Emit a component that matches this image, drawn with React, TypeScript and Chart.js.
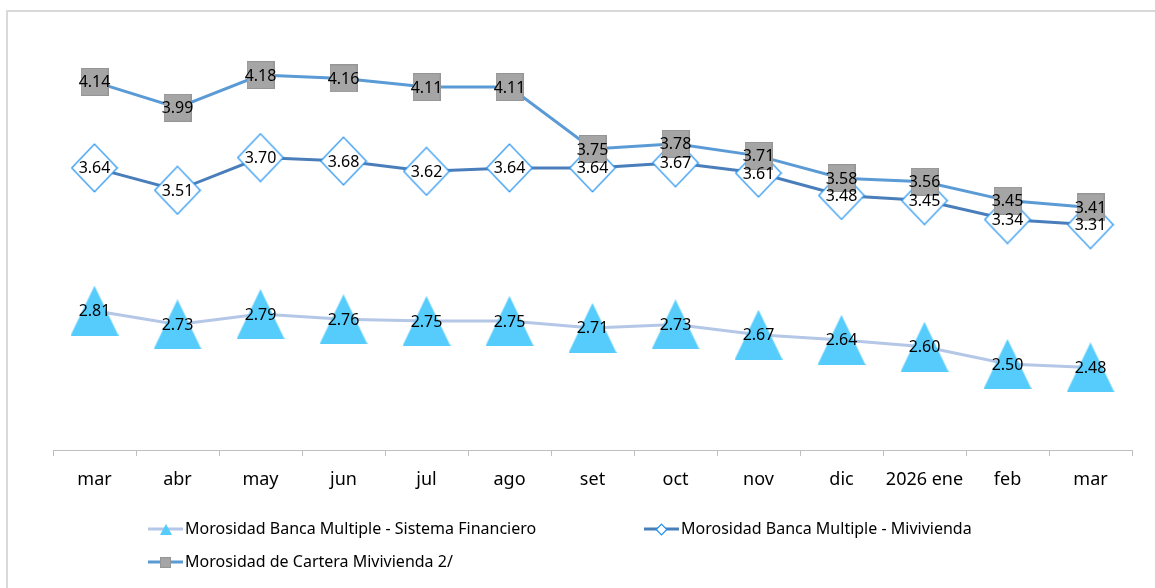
import React, { useEffect, useRef } from "react";
import { Chart, registerables } from "chart.js";

Chart.register(...registerables);

const categories = ["mar", "abr", "may", "jun", "jul", "ago", "set", "oct", "nov", "dic", "2026 ene", "feb", "mar"];
const sistemaFinanciero = [2.81, 2.73, 2.79, 2.76, 2.75, 2.75, 2.71, 2.73, 2.67, 2.64, 2.6, 2.5, 2.48];
const bancaMivivienda = [3.64, 3.51, 3.7, 3.68, 3.62, 3.64, 3.64, 3.67, 3.61, 3.48, 3.45, 3.34, 3.31];
const carteraMivivienda = [4.14, 3.99, 4.18, 4.16, 4.11, 4.11, 3.75, 3.78, 3.71, 3.58, 3.56, 3.45, 3.41];
const seriesNames = [
  "Morosidad Banca Multiple - Sistema Financiero",
  "Morosidad Banca Multiple - Mivivienda",
  "Morosidad de Cartera Mivivienda 2/",
];

const FONT = "'Noto Sans', 'Open Sans', sans-serif";

function makeCanvas(w: number, h: number, draw: (ctx: CanvasRenderingContext2D) => void) {
  const c = document.createElement("canvas");
  c.width = w;
  c.height = h;
  const ctx = c.getContext("2d")!;
  draw(ctx);
  return c;
}

function triangleImg(w: number, h: number) {
  return makeCanvas(w, h, (ctx) => {
    ctx.fillStyle = "#55CCFC";
    ctx.beginPath();
    ctx.moveTo(w / 2, 0);
    ctx.lineTo(w, h);
    ctx.lineTo(0, h);
    ctx.closePath();
    ctx.fill();
  });
}

function diamondImg(w: number, h: number, lw: number) {
  return makeCanvas(w, h, (ctx) => {
    ctx.fillStyle = "#FFFFFF";
    ctx.strokeStyle = "#1E90F0";
    ctx.lineWidth = lw;
    ctx.beginPath();
    ctx.moveTo(w / 2, lw);
    ctx.lineTo(w - lw, h / 2);
    ctx.lineTo(w / 2, h - lw);
    ctx.lineTo(lw, h / 2);
    ctx.closePath();
    ctx.fill();
    ctx.stroke();
  });
}

function squareImg(s: number) {
  return makeCanvas(s, s, (ctx) => {
    ctx.fillStyle = "#A5A5A5";
    ctx.fillRect(0, 0, s, s);
    ctx.strokeStyle = "#959595";
    ctx.lineWidth = 1;
    ctx.strokeRect(0.5, 0.5, s - 1, s - 1);
  });
}

export default function App() {
  const ref = useRef<HTMLCanvasElement | null>(null);

  useEffect(() => {
    if (!ref.current) return;
    const tri = triangleImg(48, 50);
    const dia = diamondImg(48, 50, 1.2);
    const sq = squareImg(28);
    const legendIcons = [triangleImg(12, 11), diamondImg(13, 13, 1.2), squareImg(11)];
    const lineColors = ["#B4C7E7", "#4A7EBB", "#5B9BD5"];

    const framePlugin = {
      id: "frame",
      beforeDraw(chart: any) {
        const ctx = chart.ctx;
        ctx.save();
        ctx.fillStyle = "#FFFFFF";
        ctx.fillRect(0, 0, chart.width, chart.height);
        ctx.strokeStyle = "#D9D9D9";
        ctx.lineWidth = 2;
        ctx.beginPath();
        ctx.moveTo(7, chart.height);
        ctx.lineTo(7, 11);
        ctx.lineTo(chart.width, 11);
        ctx.stroke();
        ctx.restore();
      },
    };

    const labelPlugin = {
      id: "valueLabels",
      afterDatasetsDraw(chart: any) {
        const ctx = chart.ctx;
        ctx.save();
        ctx.font = `16px ${FONT}`;
        ctx.fillStyle = "#000000";
        ctx.textAlign = "center";
        ctx.textBaseline = "middle";
        chart.data.datasets.forEach((ds: any, i: number) => {
          const meta = chart.getDatasetMeta(i);
          meta.data.forEach((pt: any, j: number) => {
            ctx.fillText(Number(ds.data[j]).toFixed(2), pt.x, pt.y + 1);
          });
        });
        ctx.restore();
      },
    };

    const legendPlugin = {
      id: "customLegend",
      afterDraw(chart: any) {
        const ctx = chart.ctx;
        const items = [
          { x: 148, y: 529 },
          { x: 644, y: 529 },
          { x: 148, y: 562 },
        ];
        ctx.save();
        items.forEach((it, i) => {
          ctx.strokeStyle = lineColors[i];
          ctx.lineWidth = 3;
          ctx.beginPath();
          ctx.moveTo(it.x, it.y);
          ctx.lineTo(it.x + 35, it.y);
          ctx.stroke();
          const icon = legendIcons[i];
          ctx.drawImage(icon, Math.round(it.x + 17.5 - icon.width / 2), Math.round(it.y - icon.height / 2));
          ctx.font = `16px ${FONT}`;
          ctx.fillStyle = "#000000";
          ctx.textAlign = "left";
          ctx.textBaseline = "middle";
          ctx.fillText(seriesNames[i], it.x + 37, it.y);
        });
        ctx.restore();
      },
    };

    const chart = new Chart(ref.current, {
      type: "line",
      data: {
        labels: categories,
        datasets: [
          {
            label: seriesNames[0],
            data: sistemaFinanciero,
            borderColor: lineColors[0],
            borderWidth: 3,
            pointStyle: tri as any,
            pointRadius: 10,
            order: 3,
          },
          {
            label: seriesNames[1],
            data: bancaMivivienda,
            borderColor: lineColors[1],
            borderWidth: 3,
            pointStyle: dia as any,
            pointRadius: 10,
            order: 2,
          },
          {
            label: seriesNames[2],
            data: carteraMivivienda,
            borderColor: lineColors[2],
            borderWidth: 3,
            pointStyle: sq as any,
            pointRadius: 10,
            order: 1,
          },
        ],
      },
      options: {
        animation: false,
        responsive: false,
        devicePixelRatio: 1,
        layout: { padding: { left: 53, right: 23, top: 20, bottom: 0 } },
        plugins: {
          legend: { display: false },
          tooltip: { enabled: false },
        },
        scales: {
          x: {
            type: "category",
            offset: true,
            border: { display: true, color: "#BFBFBF", width: 1 },
            grid: {
              display: true,
              drawOnChartArea: false,
              drawTicks: true,
              tickLength: 6,
              offset: true,
              color: "#BFBFBF",
            },
            ticks: {
              color: "#000000",
              font: { family: FONT, size: 18 },
              padding: 13,
              maxRotation: 0,
              autoSkip: false,
            },
            afterFit(scale: any) {
              scale.height = 138;
            },
          },
          y: {
            display: false,
            min: 2,
            max: 4.5,
          },
        },
      },
      plugins: [framePlugin, labelPlugin, legendPlugin],
    });
    return () => chart.destroy();
  }, []);

  return (
    <div style={{ position: "fixed", left: 0, top: 0, width: 1155, height: 588, background: "#fff" }}>
      <canvas ref={ref} width={1155} height={588} style={{ width: 1155, height: 588, display: "block" }} />
    </div>
  );
}
